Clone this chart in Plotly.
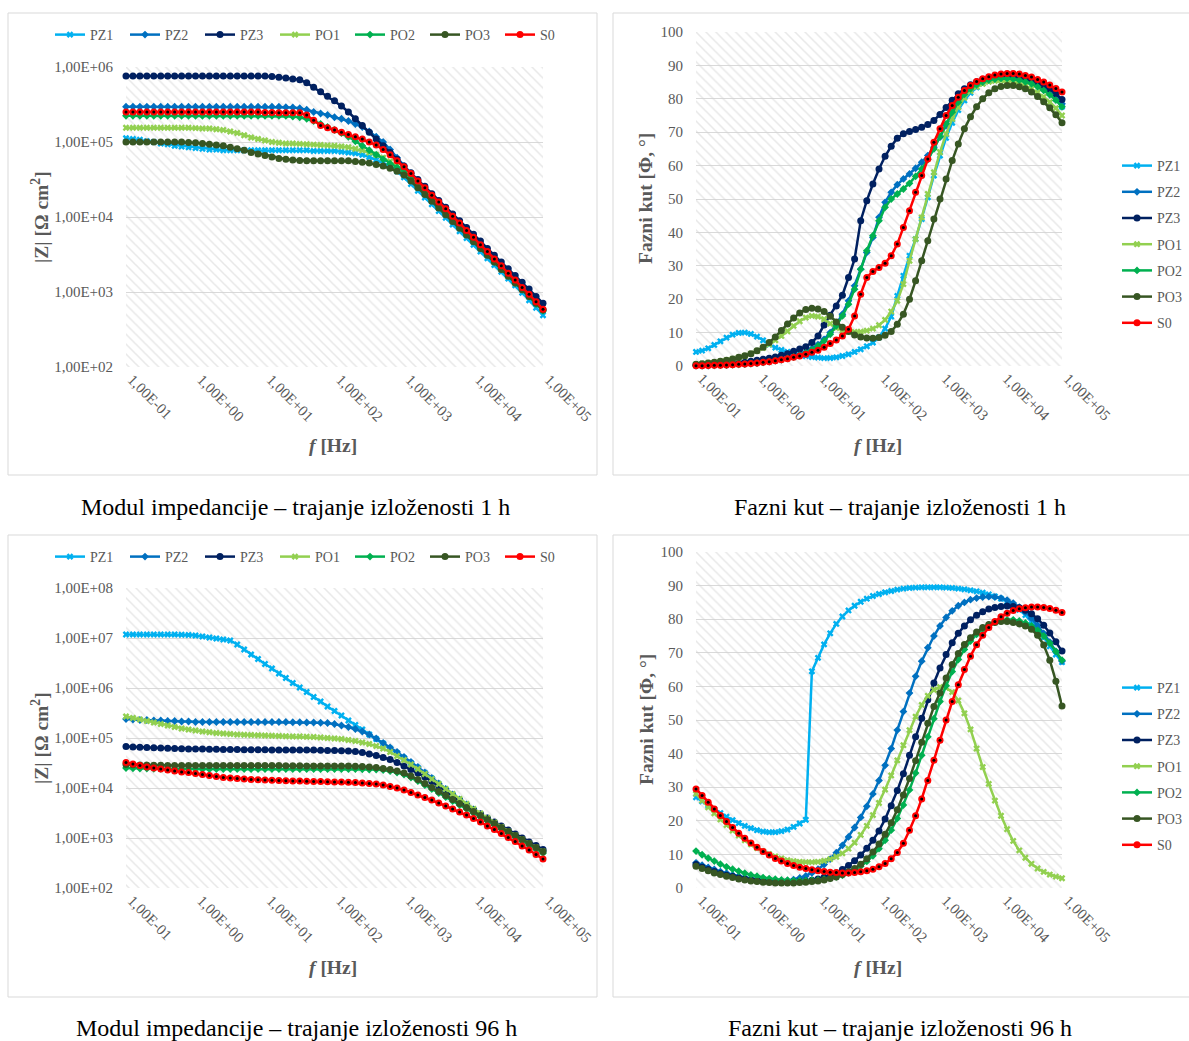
import math
import plotly.graph_objects as go

W, H = 1189, 1041

# ---------------- data ----------------
freq_hz = [0.1, 0.1259, 0.1585, 0.1995, 0.2512, 0.3162, 0.3981, 0.5012, 0.631, 0.7943,
           1.0, 1.259, 1.585, 1.995, 2.512, 3.162, 3.981, 5.012, 6.31, 7.943,
           10.0, 12.59, 15.85, 19.95, 25.12, 31.62, 39.81, 50.12, 63.1, 79.43,
           100.0, 125.9, 158.5, 199.5, 251.2, 316.2, 398.1, 501.2, 631.0, 794.3,
           1000.0, 1259.0, 1585.0, 1995.0, 2512.0, 3162.0, 3981.0, 5012.0, 6310.0, 7943.0,
           10000.0, 12590.0, 15850.0, 19950.0, 25120.0, 31620.0, 39810.0, 50120.0, 63100.0, 79430.0,
           100000.0]

x_tick_vals = [0.1, 1, 10, 100, 1000, 10000, 100000]
x_tick_text = ["1,00E-01", "1,00E+00", "1,00E+01", "1,00E+02", "1,00E+03", "1,00E+04", "1,00E+05"]
z_tick_vals = [1e2, 1e3, 1e4, 1e5, 1e6, 1e7, 1e8]
z_tick_text = ["1,00E+02", "1,00E+03", "1,00E+04", "1,00E+05", "1,00E+06", "1,00E+07", "1,00E+08"]

series_names = ["PZ1", "PZ2", "PZ3", "PO1", "PO2", "PO3", "S0"]
series_colors = ["#00B0F0", "#0070C0", "#002060", "#92D050", "#00B050", "#375623", "#FF0000"]
series_symbols = ["x", "diamond", "circle", "x", "diamond", "circle", "circle"]
series_sizes = [6, 6, 7, 6, 6, 7, 7]

# |Z| after 1 h, stored as log10(|Z| / Ω cm²)
logZ_1h_PZ1 = [5.05, 5.04, 5.03, 5.01, 5.00, 4.98, 4.97, 4.95, 4.94, 4.93,
               4.92, 4.91, 4.90, 4.90, 4.89, 4.89, 4.89, 4.89, 4.89, 4.89,
               4.89, 4.89, 4.89, 4.89, 4.89, 4.89, 4.89, 4.88, 4.88, 4.88,
               4.88, 4.87, 4.86, 4.85, 4.83, 4.80, 4.76, 4.72, 4.68, 4.61,
               4.53, 4.44, 4.35, 4.26, 4.17, 4.08, 3.99, 3.90, 3.81, 3.72,
               3.63, 3.54, 3.45, 3.36, 3.27, 3.18, 3.09, 2.99, 2.89, 2.79,
               2.69]
logZ_1h_PZ2 = [5.47, 5.47, 5.47, 5.47, 5.47, 5.47, 5.47, 5.47, 5.47, 5.47,
               5.47, 5.47, 5.47, 5.47, 5.47, 5.47, 5.47, 5.47, 5.47, 5.47,
               5.47, 5.47, 5.47, 5.465, 5.46, 5.45, 5.43, 5.40, 5.38, 5.36,
               5.33, 5.31, 5.28, 5.24, 5.20, 5.14, 5.07, 5.00, 4.90, 4.79,
               4.68, 4.58, 4.48, 4.39, 4.29, 4.20, 4.10, 4.00, 3.91, 3.81,
               3.72, 3.62, 3.53, 3.43, 3.34, 3.24, 3.15, 3.05, 2.96, 2.86,
               2.77]
logZ_1h_PZ3 = [5.88, 5.88, 5.88, 5.88, 5.88, 5.88, 5.88, 5.88, 5.88, 5.88,
               5.88, 5.88, 5.88, 5.88, 5.88, 5.88, 5.88, 5.88, 5.88, 5.88,
               5.88, 5.875, 5.865, 5.855, 5.84, 5.83, 5.79, 5.73, 5.67, 5.61,
               5.55, 5.48, 5.40, 5.31, 5.22, 5.13, 5.04, 4.95, 4.86, 4.77,
               4.68, 4.59, 4.50, 4.41, 4.31, 4.22, 4.13, 4.04, 3.95, 3.86,
               3.77, 3.68, 3.58, 3.49, 3.40, 3.31, 3.22, 3.13, 3.04, 2.94,
               2.85]
logZ_1h_PO1 = [5.19, 5.19, 5.19, 5.19, 5.19, 5.19, 5.19, 5.19, 5.19, 5.19,
               5.185, 5.18, 5.18, 5.17, 5.16, 5.14, 5.12, 5.09, 5.06, 5.04,
               5.02, 5.00, 4.99, 4.98, 4.98, 4.975, 4.97, 4.965, 4.96, 4.955,
               4.95, 4.94, 4.93, 4.91, 4.89, 4.86, 4.83, 4.79, 4.74, 4.68,
               4.62, 4.53, 4.44, 4.35, 4.25, 4.16, 4.07, 3.98, 3.88, 3.79,
               3.70, 3.60, 3.51, 3.42, 3.32, 3.23, 3.14, 3.04, 2.95, 2.86,
               2.76]
logZ_1h_PO2 = [5.35, 5.35, 5.35, 5.35, 5.35, 5.35, 5.35, 5.35, 5.35, 5.35,
               5.35, 5.35, 5.35, 5.35, 5.35, 5.35, 5.35, 5.35, 5.35, 5.35,
               5.35, 5.35, 5.35, 5.35, 5.34, 5.33, 5.31, 5.28, 5.24, 5.20,
               5.16, 5.12, 5.07, 5.01, 4.95, 4.89, 4.83, 4.77, 4.71, 4.66,
               4.61, 4.52, 4.43, 4.33, 4.24, 4.15, 4.06, 3.96, 3.87, 3.78,
               3.68, 3.59, 3.50, 3.40, 3.31, 3.22, 3.12, 3.03, 2.94, 2.84,
               2.75]
logZ_1h_PO3 = [5.00, 5.00, 5.00, 5.00, 5.00, 5.00, 5.00, 5.00, 5.00, 4.995,
               4.99, 4.98, 4.97, 4.96, 4.95, 4.93, 4.91, 4.89, 4.86, 4.84,
               4.82, 4.80, 4.78, 4.77, 4.76, 4.755, 4.75, 4.75, 4.75, 4.75,
               4.75, 4.75, 4.75, 4.74, 4.73, 4.72, 4.70, 4.68, 4.65, 4.61,
               4.56, 4.48, 4.39, 4.30, 4.21, 4.12, 4.03, 3.94, 3.85, 3.76,
               3.67, 3.58, 3.49, 3.40, 3.30, 3.21, 3.12, 3.03, 2.94, 2.85,
               2.76]
logZ_1h_S0 = [5.40, 5.40, 5.40, 5.40, 5.40, 5.40, 5.40, 5.40, 5.40, 5.40,
              5.40, 5.40, 5.40, 5.40, 5.40, 5.40, 5.40, 5.40, 5.40, 5.40,
              5.395, 5.395, 5.39, 5.39, 5.39, 5.39, 5.36, 5.29, 5.22, 5.19,
              5.16, 5.13, 5.10, 5.07, 5.04, 5.00, 4.96, 4.90, 4.83, 4.75,
              4.67, 4.58, 4.48, 4.39, 4.29, 4.20, 4.11, 4.01, 3.92, 3.82,
              3.73, 3.63, 3.54, 3.44, 3.35, 3.25, 3.16, 3.06, 2.97, 2.87,
              2.77]

# phase angle after 1 h, degrees
phase_1h_PZ1 = [4.2, 4.6, 5.3, 6.3, 7.4, 8.5, 9.4, 9.9, 10.0, 9.6,
                8.8, 7.7, 6.4, 5.5, 4.8, 4.2, 3.7, 3.3, 3.0, 2.7,
                2.5, 2.35, 2.4, 2.6, 3.0, 3.5, 4.2, 5.0, 5.9, 7.0,
                8.6, 11.2, 14.8, 21.0, 27.0, 33.0, 38.0, 44.0, 50.5, 57.0,
                63.0, 68.3, 72.8, 76.6, 79.5, 81.8, 83.4, 84.6, 85.5, 86.1,
                86.5, 86.6, 86.5, 86.3, 85.9, 85.3, 84.5, 83.5, 82.0, 80.0,
                77.6]
phase_1h_PZ2 = [0.1, 0.1, 0.15, 0.2, 0.25, 0.3, 0.4, 0.5, 0.6, 0.75,
                0.9, 1.1, 1.3, 1.6, 1.9, 2.3, 2.8, 3.4, 4.2, 5.2,
                6.4, 8.0, 10.0, 12.5, 15.5, 19.5, 24.0, 29.0, 34.0, 38.5,
                44.5, 49.0, 52.0, 54.3, 56.0, 57.5, 59.2, 61.0, 63.0, 65.5,
                68.5, 72.0, 75.5, 78.5, 81.0, 82.8, 84.2, 85.2, 85.9, 86.3,
                86.5, 86.5, 86.3, 86.0, 85.5, 84.9, 84.1, 83.1, 81.9, 80.4,
                78.5]
phase_1h_PZ3 = [0.3, 0.35, 0.4, 0.5, 0.6, 0.7, 0.8, 0.95, 1.1, 1.4,
                1.7, 2.0, 2.3, 2.7, 3.2, 3.7, 4.4, 5.1, 5.8, 7.0,
                9.0, 12.3, 15.2, 18.0, 21.2, 26.5, 32.0, 43.5, 49.5, 54.5,
                59.0, 62.8, 65.8, 68.2, 69.5, 70.2, 70.8, 71.5, 72.3, 73.5,
                75.3, 77.4, 79.6, 81.5, 83.0, 84.2, 85.1, 85.8, 86.3, 86.6,
                86.8, 86.9, 86.8, 86.5, 86.1, 85.6, 84.9, 84.0, 82.9, 81.5,
                79.8]
phase_1h_PO1 = [0.5, 0.7, 0.9, 1.1, 1.4, 1.7, 2.1, 2.5, 3.0, 3.7,
                4.5, 5.4, 6.5, 7.7, 9.0, 10.4, 12.0, 13.4, 14.5, 15.0,
                14.8, 14.0, 12.7, 11.4, 10.6, 10.3, 10.2, 10.3, 10.6, 11.2,
                12.2, 13.8, 16.3, 19.5, 24.5, 31.5, 38.0, 44.5, 51.5, 58.0,
                64.0, 69.5, 74.0, 77.5, 80.3, 82.3, 83.6, 84.5, 85.1, 85.4,
                85.5, 85.4, 85.1, 84.6, 83.9, 83.0, 81.9, 80.6, 79.0, 77.2,
                75.0]
phase_1h_PO2 = [0.1, 0.1, 0.15, 0.2, 0.25, 0.3, 0.4, 0.5, 0.6, 0.75,
                0.9, 1.1, 1.3, 1.6, 1.9, 2.3, 2.7, 3.2, 3.9, 4.8,
                6.0, 7.5, 9.5, 12.0, 15.0, 18.5, 23.0, 29.0, 34.5, 39.0,
                43.5, 47.5, 50.0, 51.5, 53.0, 54.7, 56.8, 59.0, 61.8, 65.0,
                68.7, 72.5, 76.0, 79.0, 81.3, 83.0, 84.2, 85.0, 85.6, 85.9,
                86.1, 86.1, 85.9, 85.6, 85.1, 84.5, 83.6, 82.5, 81.2, 79.6,
                77.6]
phase_1h_PO3 = [0.5, 0.7, 0.9, 1.1, 1.4, 1.7, 2.1, 2.6, 3.1, 3.7,
                4.6, 5.6, 7.0, 8.7, 10.6, 12.6, 14.4, 15.9, 16.9, 17.3,
                17.1, 16.3, 14.9, 13.2, 11.6, 10.3, 9.3, 8.7, 8.4, 8.3,
                8.5, 9.2, 10.3, 12.5, 15.5, 20.0, 25.5, 31.5, 37.5, 44.0,
                50.0, 56.0, 61.5, 66.5, 71.0, 74.6, 77.6, 80.0, 81.8, 83.0,
                83.7, 84.0, 84.0, 83.6, 83.0, 82.0, 80.7, 79.1, 77.3, 75.2,
                72.8]
phase_1h_S0 = [0.1, 0.1, 0.15, 0.2, 0.25, 0.3, 0.4, 0.5, 0.6, 0.75,
               0.9, 1.1, 1.3, 1.6, 1.9, 2.2, 2.6, 3.0, 3.5, 4.1,
               4.7, 5.6, 6.7, 7.8, 9.0, 11.0, 15.0, 21.5, 26.5, 28.3,
               29.5, 30.8, 33.0, 36.5, 41.5, 46.5, 52.0, 57.0, 62.0, 67.0,
               71.0, 75.0, 78.0, 80.5, 82.5, 84.0, 85.2, 86.0, 86.6, 87.1,
               87.4, 87.6, 87.6, 87.4, 87.0, 86.5, 85.8, 85.0, 84.1, 83.1,
               82.0]

# |Z| after 96 h, stored as log10(|Z| / Ω cm²)
logZ_96h_PZ1 = [7.07, 7.07, 7.07, 7.07, 7.07, 7.07, 7.07, 7.07, 7.065, 7.06,
                7.05, 7.03, 7.01, 6.99, 6.97, 6.95, 6.87, 6.77, 6.67, 6.58,
                6.48, 6.39, 6.29, 6.20, 6.10, 6.01, 5.92, 5.82, 5.73, 5.63,
                5.54, 5.45, 5.35, 5.26, 5.17, 5.07, 4.98, 4.89, 4.79, 4.70,
                4.60, 4.50, 4.40, 4.30, 4.19, 4.08, 3.97, 3.86, 3.76, 3.66,
                3.56, 3.47, 3.38, 3.29, 3.21, 3.12, 3.04, 2.96, 2.88, 2.80,
                2.73]
logZ_96h_PZ2 = [5.38, 5.37, 5.36, 5.36, 5.35, 5.35, 5.34, 5.34, 5.33, 5.33,
                5.32, 5.32, 5.32, 5.32, 5.32, 5.32, 5.32, 5.32, 5.32, 5.32,
                5.32, 5.32, 5.32, 5.32, 5.315, 5.315, 5.31, 5.31, 5.305, 5.30,
                5.28, 5.25, 5.22, 5.18, 5.13, 5.07, 4.99, 4.90, 4.81, 4.72,
                4.62, 4.52, 4.42, 4.31, 4.20, 4.09, 3.98, 3.87, 3.77, 3.67,
                3.57, 3.48, 3.39, 3.30, 3.21, 3.13, 3.05, 2.97, 2.89, 2.81,
                2.74]
logZ_96h_PZ3 = [4.83, 4.82, 4.815, 4.81, 4.805, 4.80, 4.795, 4.79, 4.785, 4.78,
                4.78, 4.778, 4.776, 4.774, 4.772, 4.77, 4.768, 4.766, 4.765, 4.764,
                4.763, 4.762, 4.761, 4.76, 4.76, 4.76, 4.76, 4.76, 4.755, 4.75,
                4.75, 4.745, 4.74, 4.73, 4.71, 4.68, 4.65, 4.61, 4.57, 4.51,
                4.44, 4.37, 4.30, 4.22, 4.13, 4.04, 3.94, 3.84, 3.75, 3.65,
                3.56, 3.48, 3.40, 3.32, 3.24, 3.16, 3.08, 3.00, 2.92, 2.85,
                2.77]
logZ_96h_PO1 = [5.43, 5.40, 5.37, 5.34, 5.31, 5.28, 5.25, 5.22, 5.19, 5.17,
                5.15, 5.13, 5.115, 5.10, 5.09, 5.08, 5.07, 5.065, 5.06, 5.055,
                5.05, 5.045, 5.04, 5.035, 5.03, 5.03, 5.025, 5.02, 5.01, 5.00,
                4.99, 4.98, 4.96, 4.94, 4.91, 4.88, 4.84, 4.79, 4.72, 4.64,
                4.56, 4.47, 4.38, 4.28, 4.18, 4.08, 3.98, 3.88, 3.78, 3.68,
                3.58, 3.49, 3.40, 3.31, 3.22, 3.13, 3.05, 2.97, 2.89, 2.81,
                2.73]
logZ_96h_PO2 = [4.40, 4.395, 4.39, 4.39, 4.385, 4.385, 4.38, 4.38, 4.38, 4.38,
                4.38, 4.38, 4.38, 4.38, 4.38, 4.38, 4.38, 4.38, 4.38, 4.38,
                4.38, 4.38, 4.38, 4.38, 4.38, 4.38, 4.38, 4.38, 4.38, 4.38,
                4.38, 4.38, 4.38, 4.38, 4.375, 4.37, 4.37, 4.36, 4.34, 4.31,
                4.27, 4.21, 4.14, 4.06, 3.98, 3.90, 3.82, 3.74, 3.66, 3.58,
                3.50, 3.42, 3.34, 3.26, 3.18, 3.10, 3.02, 2.94, 2.86, 2.78,
                2.70]
logZ_96h_PO3 = [4.47, 4.465, 4.46, 4.46, 4.455, 4.455, 4.45, 4.45, 4.45, 4.45,
                4.45, 4.45, 4.45, 4.45, 4.45, 4.45, 4.45, 4.45, 4.45, 4.45,
                4.45, 4.45, 4.45, 4.445, 4.445, 4.445, 4.44, 4.44, 4.44, 4.44,
                4.44, 4.44, 4.44, 4.435, 4.43, 4.42, 4.41, 4.39, 4.37, 4.34,
                4.30, 4.24, 4.17, 4.09, 4.01, 3.93, 3.85, 3.77, 3.69, 3.61,
                3.53, 3.45, 3.37, 3.29, 3.21, 3.13, 3.05, 2.97, 2.89, 2.81,
                2.73]
logZ_96h_S0 = [4.51, 4.48, 4.45, 4.42, 4.40, 4.38, 4.36, 4.34, 4.32, 4.31,
               4.29, 4.27, 4.25, 4.23, 4.21, 4.20, 4.19, 4.18, 4.17, 4.165,
               4.16, 4.155, 4.15, 4.145, 4.14, 4.14, 4.135, 4.13, 4.13, 4.125,
               4.12, 4.12, 4.115, 4.11, 4.10, 4.09, 4.08, 4.06, 4.03, 4.00,
               3.96, 3.91, 3.86, 3.81, 3.76, 3.70, 3.64, 3.58, 3.52, 3.46,
               3.39, 3.32, 3.24, 3.17, 3.09, 3.01, 2.93, 2.84, 2.76, 2.67,
               2.58]

# phase angle after 96 h, degrees
phase_96h_PZ1 = [27.0, 25.8, 24.6, 23.4, 22.3, 21.2, 20.2, 19.3, 18.5, 17.8,
                 17.2, 16.8, 16.6, 16.6, 16.9, 17.4, 18.2, 19.2, 20.3, 64.5,
                 68.5, 72.5, 75.8, 78.6, 80.8, 82.6, 84.0, 85.2, 86.1, 86.9,
                 87.5, 88.0, 88.4, 88.8, 89.1, 89.3, 89.4, 89.5, 89.5, 89.5,
                 89.5, 89.4, 89.3, 89.1, 88.9, 88.6, 88.3, 87.9, 87.4, 86.8,
                 86.1, 85.2, 84.1, 82.8, 81.2, 79.3, 77.1, 74.6, 71.9, 69.5,
                 67.2]
phase_96h_PZ2 = [7.5, 6.8, 6.1, 5.5, 4.9, 4.4, 3.9, 3.5, 3.1, 2.8,
                 2.5, 2.3, 2.2, 2.1, 2.1, 2.2, 2.5, 3.0, 3.6, 4.5,
                 5.6, 7.0, 8.6, 10.5, 12.7, 15.2, 18.0, 21.0, 24.3, 28.0,
                 32.0, 36.5, 41.5, 47.0, 52.5, 58.0, 63.0, 67.5, 71.5, 75.0,
                 78.0, 80.5, 82.5, 84.0, 85.0, 85.8, 86.3, 86.6, 86.7, 86.6,
                 86.3, 85.7, 84.8, 83.6, 82.1, 80.3, 78.2, 75.8, 73.2, 70.4,
                 67.5]
phase_96h_PZ3 = [7.0, 6.2, 5.5, 4.9, 4.3, 3.8, 3.4, 3.0, 2.7, 2.4,
                 2.2, 2.0, 1.9, 1.8, 1.8, 1.8, 1.9, 2.0, 2.1, 2.3,
                 2.7, 3.2, 3.8, 4.5, 5.5, 6.7, 8.1, 9.8, 11.8, 14.2,
                 17.0, 20.5, 24.5, 29.0, 34.0, 39.5, 45.0, 50.5, 56.0, 61.0,
                 65.5, 69.5, 73.0, 75.8, 78.0, 79.8, 81.2, 82.2, 83.0, 83.5,
                 83.8, 83.9, 83.8, 83.4, 82.7, 81.6, 80.1, 78.2, 75.9, 73.3,
                 70.5]
phase_96h_PO1 = [28.0, 26.0, 24.0, 22.2, 20.4, 18.7, 17.1, 15.6, 14.2, 13.0,
                 11.9, 10.9, 10.1, 9.4, 8.8, 8.3, 8.0, 7.8, 7.7, 7.7,
                 7.8, 8.1, 8.6, 9.3, 10.3, 11.7, 13.5, 15.8, 18.5, 21.7,
                 25.3, 29.3, 33.5, 38.0, 42.5, 47.0, 51.0, 54.5, 57.2, 59.0,
                 59.8, 59.6, 58.3, 55.8, 52.0, 47.2, 41.5, 36.0, 31.0, 26.0,
                 21.5, 17.5, 14.0, 11.2, 9.0, 7.2, 5.8, 4.8, 4.0, 3.4,
                 2.9]
phase_96h_PO2 = [11.0, 9.9, 8.9, 8.0, 7.1, 6.3, 5.6, 5.0, 4.4, 3.9,
                 3.5, 3.1, 2.8, 2.6, 2.4, 2.3, 2.2, 2.2, 2.2, 2.3,
                 2.4, 2.6, 2.9, 3.3, 3.8, 4.5, 5.4, 6.5, 7.9, 9.6,
                 11.7, 14.2, 17.2, 20.7, 24.7, 29.2, 34.2, 39.5, 45.0, 50.4,
                 55.5, 60.2, 64.4, 68.0, 71.0, 73.5, 75.5, 77.1, 78.3, 79.1,
                 79.6, 79.8, 79.8, 79.5, 78.9, 78.0, 76.7, 75.0, 72.9, 70.4,
                 67.8]
phase_96h_PO3 = [6.5, 5.8, 5.1, 4.5, 4.0, 3.5, 3.1, 2.7, 2.4, 2.1,
                 1.9, 1.7, 1.6, 1.5, 1.5, 1.5, 1.5, 1.6, 1.7, 1.9,
                 2.1, 2.4, 2.8, 3.3, 4.0, 4.8, 5.8, 7.1, 8.7, 10.7,
                 13.1, 16.0, 19.4, 23.3, 27.7, 32.6, 37.9, 43.4, 49.0, 54.0,
                 58.0, 62.5, 66.5, 69.8, 72.5, 74.5, 76.2, 77.5, 78.4, 79.0,
                 79.3, 79.3, 79.0, 78.6, 78.0, 77.0, 75.2, 72.3, 67.8, 61.5,
                 54.2]
phase_96h_S0 = [29.5, 27.5, 25.5, 23.5, 21.6, 19.8, 18.0, 16.3, 14.8, 13.4,
                12.1, 10.9, 9.8, 8.8, 8.0, 7.3, 6.7, 6.2, 5.8, 5.4,
                5.1, 4.9, 4.7, 4.6, 4.5, 4.5, 4.6, 4.8, 5.1, 5.6,
                6.3, 7.3, 8.7, 10.6, 13.3, 17.2, 21.5, 26.5, 32.0, 38.0,
                44.0, 50.0, 55.5, 60.5, 65.0, 69.0, 72.4, 75.2, 77.5, 79.3,
                80.7, 81.8, 82.6, 83.1, 83.4, 83.6, 83.6, 83.5, 83.2, 82.7,
                82.0]

# ---------------- layout helpers ----------------
FONT = "Liberation Serif, Times New Roman, serif"
GRAY = "#595959"
GRID = "#d9d9d9"

def px_x(p):
    return p / W

def px_y(p):
    return 1 - p / H

X_RANGE = (0.1, 1e5)
Z1_RANGE = (1e2, 1e6)
Z96_RANGE = (1e2, 1e8)
P_RANGE = (0, 100)

# plot areas in pixels: (left, right, top, bottom)
boxes = {
    "tl": (126, 543, 67, 367),
    "tr": (696, 1062, 32, 366),
    "bl": (126, 543, 588, 888),
    "br": (696, 1062, 552, 888),
}

fig = go.Figure()

def add_hatch(xa, ya, yr, legend_name):
    fig.add_trace(go.Scatter(
        x=[X_RANGE[0], X_RANGE[1], X_RANGE[1], X_RANGE[0], X_RANGE[0]],
        y=[yr[0], yr[0], yr[1], yr[1], yr[0]],
        mode="none", fill="toself", fillcolor="rgba(0,0,0,0)",
        fillpattern=dict(shape="\\", fgcolor="#d2d2d2", bgcolor="rgba(0,0,0,0)",
                         size=7, solidity=0.22),
        hoverinfo="skip", showlegend=False, xaxis=xa, yaxis=ya, legend=legend_name))

def add_series(xa, ya, legend_name, values_list, is_log, group_prefix=None):
    for name, vals, col, sym, size in zip(series_names, values_list, series_colors,
                                          series_symbols, series_sizes):
        yv = [10 ** v for v in vals] if is_log else list(vals)
        kw = {}
        if group_prefix:
            kw["legendgroup"] = group_prefix + name
        fig.add_trace(go.Scatter(
            x=freq_hz, y=yv, mode="lines+markers", name=name,
            line=dict(color=col, width=2.5),
            marker=dict(symbol=sym, size=size, color=col),
            xaxis=xa, yaxis=ya, legend=legend_name, cliponaxis=False, **kw))
        if name == "S0":
            fig.add_trace(go.Scatter(
                x=freq_hz, y=yv, mode="markers",
                marker=dict(symbol="circle", size=3, color="black"),
                xaxis=xa, yaxis=ya, showlegend=False, hoverinfo="skip",
                legend=legend_name, cliponaxis=False, **kw))

add_hatch("x", "y", Z1_RANGE, "legend")
add_series("x", "y", "legend",
           [logZ_1h_PZ1, logZ_1h_PZ2, logZ_1h_PZ3, logZ_1h_PO1, logZ_1h_PO2, logZ_1h_PO3, logZ_1h_S0], True)
add_hatch("x2", "y2", P_RANGE, "legend2")
add_series("x2", "y2", "legend2",
           [phase_1h_PZ1, phase_1h_PZ2, phase_1h_PZ3, phase_1h_PO1, phase_1h_PO2, phase_1h_PO3, phase_1h_S0],
           False, group_prefix="tr_")
add_hatch("x3", "y3", Z96_RANGE, "legend3")
add_series("x3", "y3", "legend3",
           [logZ_96h_PZ1, logZ_96h_PZ2, logZ_96h_PZ3, logZ_96h_PO1, logZ_96h_PO2, logZ_96h_PO3, logZ_96h_S0], True)
add_hatch("x4", "y4", P_RANGE, "legend4")
add_series("x4", "y4", "legend4",
           [phase_96h_PZ1, phase_96h_PZ2, phase_96h_PZ3, phase_96h_PO1, phase_96h_PO2, phase_96h_PO3, phase_96h_S0],
           False, group_prefix="br_")

tick_font = dict(family=FONT, size=15, color=GRAY)

def xaxis_cfg(key, anchor):
    l, r, t, b = boxes[key]
    return dict(type="log", range=[-1, 5], domain=[px_x(l), px_x(r)], anchor=anchor,
                tickvals=x_tick_vals, ticktext=x_tick_text, tickangle=45,
                tickfont=tick_font, showgrid=False, zeroline=False, showline=False,
                ticks="", ticklabelshift=6, ticklabelstandoff=0, fixedrange=True)

def zaxis_cfg(key, anchor, rng):
    l, r, t, b = boxes[key]
    lo, hi = math.log10(rng[0]), math.log10(rng[1])
    vals = [v for v in z_tick_vals if rng[0] <= v <= rng[1]]
    txt = [z_tick_text[z_tick_vals.index(v)] for v in vals]
    return dict(type="log", range=[lo, hi], domain=[px_y(b), px_y(t)], anchor=anchor,
                tickvals=vals, ticktext=txt, tickfont=tick_font,
                showgrid=True, gridcolor=GRID, gridwidth=1, zeroline=False, showline=False,
                ticks="outside", ticklen=9, tickcolor="rgba(0,0,0,0)", fixedrange=True)

def paxis_cfg(key, anchor):
    l, r, t, b = boxes[key]
    return dict(range=[P_RANGE[0], P_RANGE[1]], domain=[px_y(b), px_y(t)], anchor=anchor,
                dtick=10, tick0=0, tickfont=tick_font,
                showgrid=True, gridcolor=GRID, gridwidth=1, zeroline=False, showline=False,
                ticks="outside", ticklen=9, tickcolor="rgba(0,0,0,0)", fixedrange=True)

legend_font = dict(family=FONT, size=14, color=GRAY)

fig.update_layout(
    width=W, height=H, margin=dict(l=0, r=0, t=0, b=0, autoexpand=False),
    paper_bgcolor="white", plot_bgcolor="white",
    font=dict(family=FONT, color=GRAY),
    xaxis=xaxis_cfg("tl", "y"), yaxis=zaxis_cfg("tl", "x", Z1_RANGE),
    xaxis2=xaxis_cfg("tr", "y2"), yaxis2=paxis_cfg("tr", "x2"),
    xaxis3=xaxis_cfg("bl", "y3"), yaxis3=zaxis_cfg("bl", "x3", Z96_RANGE),
    xaxis4=xaxis_cfg("br", "y4"), yaxis4=paxis_cfg("br", "x4"),
    legend=dict(orientation="h", x=px_x(50), xanchor="left", y=px_y(35), yanchor="middle",
                font=legend_font, bgcolor="rgba(0,0,0,0)", itemwidth=30,
                entrywidth=30, entrywidthmode="pixels"),
    legend3=dict(orientation="h", x=px_x(50), xanchor="left", y=px_y(557), yanchor="middle",
                 font=legend_font, bgcolor="rgba(0,0,0,0)", itemwidth=30,
                 entrywidth=30, entrywidthmode="pixels"),
    legend2=dict(orientation="v", x=px_x(1117), xanchor="left", y=px_y(150), yanchor="top",
                 font=legend_font, bgcolor="rgba(0,0,0,0)", itemwidth=30, tracegroupgap=5),
    legend4=dict(orientation="v", x=px_x(1117), xanchor="left", y=px_y(672), yanchor="top",
                 font=legend_font, bgcolor="rgba(0,0,0,0)", itemwidth=30, tracegroupgap=5),
    showlegend=True,
)

# panel frames
shapes = []
for (l, r, t, b) in [(8, 597, 13, 475), (613, 1195, 13, 475), (8, 597, 535, 997), (613, 1195, 535, 997)]:
    shapes.append(dict(type="rect", xref="paper", yref="paper",
                       x0=px_x(l), x1=px_x(r), y0=px_y(b), y1=px_y(t),
                       line=dict(color=GRID, width=1), fillcolor="rgba(0,0,0,0)", layer="below"))
fig.update_layout(shapes=shapes)

ann = []
title_font = dict(family=FONT, size=19.5, color=GRAY)
for (x, y) in [(40, 217), (40, 738)]:
    ann.append(dict(text="<b>|Z| [Ω cm<sup>2</sup>]</b>", x=px_x(x), y=px_y(y), xref="paper", yref="paper",
                    showarrow=False, textangle=-90, font=title_font, xanchor="center", yanchor="middle"))
for (x, y) in [(646, 199), (646, 720)]:
    ann.append(dict(text="<b>Fazni kut [Φ, °]</b>", x=px_x(x), y=px_y(y), xref="paper", yref="paper",
                    showarrow=False, textangle=-90, font=title_font, xanchor="center", yanchor="middle"))
for (x, y) in [(333, 445), (878, 445), (333, 967), (878, 967)]:
    ann.append(dict(text="<b><i>f</i> [Hz]</b>", x=px_x(x), y=px_y(y), xref="paper", yref="paper",
                    showarrow=False, font=title_font, xanchor="center", yanchor="middle"))
cap_font = dict(family=FONT, size=24, color="black")
for (txt, x, y) in [("Modul impedancije – trajanje izloženosti 1 h", 295, 507),
                    ("Fazni kut – trajanje izloženosti 1 h", 900, 507),
                    ("Modul impedancije – trajanje izloženosti 96 h", 296, 1028),
                    ("Fazni kut – trajanje izloženosti 96 h", 900, 1028)]:
    ann.append(dict(text=txt, x=px_x(x), y=px_y(y), xref="paper", yref="paper",
                    showarrow=False, font=cap_font, xanchor="center", yanchor="middle"))
fig.update_layout(annotations=ann)

fig.write_html("out.html", config={"displayModeBar": False},
               post_script="document.body.style.margin='0';document.body.style.overflow='hidden';")
